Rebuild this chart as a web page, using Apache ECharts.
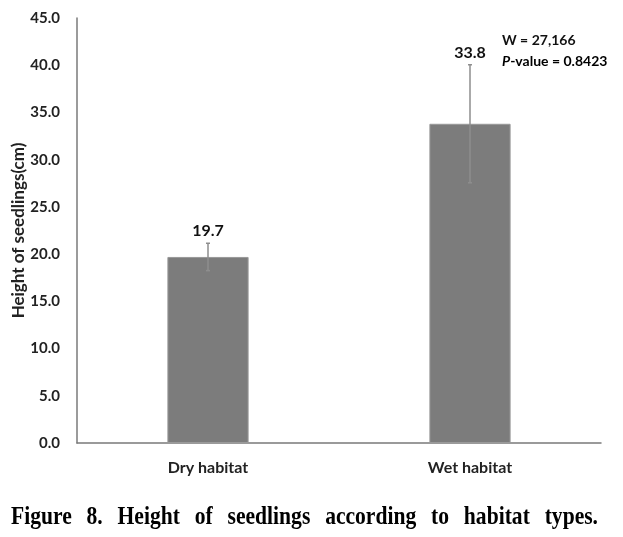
<!DOCTYPE html>
<html><head><meta charset="utf-8">
<script src="https://cdn.jsdelivr.net/npm/echarts@6/dist/echarts.min.js"></script>
<style>html,body{margin:0;padding:0;background:#fff}#c{width:623px;height:537px}</style>
</head><body><div id="c"></div>
<script>
var categories = ['Dry habitat', 'Wet habitat'];
var means = [19.7, 33.8];
var errors = [1.45, 6.25];
var yTicks = [0, 5, 10, 15, 20, 25, 30, 35, 40, 45];
var statLines = ['W = 27,166', 'P-value = 0.8423'];
var captionText = 'Figure 8. Height of seedlings according to habitat types.';

var chart = echarts.init(document.getElementById('c'));
var labelFont = 'Lato, "Open Sans", sans-serif';

// justified, horizontally condensed caption
var capLeft = 11, capRight = 598, capTop = 504, capSize = 26, capScale = 0.83;
var capFont = 'bold ' + capSize + 'px "Liberation Serif", "Times New Roman", serif';
var ctx = document.createElement('canvas').getContext('2d');
ctx.font = capFont;
var words = captionText.split(' ');
var widths = words.map(function (w) { return ctx.measureText(w).width * capScale; });
var total = widths.reduce(function (a, b) { return a + b; }, 0);
var gap = (capRight - capLeft - total) / (words.length - 1);
var capGraphics = [];
var cx = capLeft;
words.forEach(function (w, i) {
  capGraphics.push({
    type: 'text', x: cx, y: capTop, scaleX: capScale,
    style: { text: w, font: capFont, fill: '#000', verticalAlign: 'top' }
  });
  cx += widths[i] + gap;
});

chart.setOption({
  animation: false,
  grid: { left: 77, right: 22, top: 18, bottom: 94, containLabel: false, outerBoundsMode: 'none' },
  xAxis: {
    type: 'category', data: categories,
    axisLine: { lineStyle: { color: '#7a7a7a', width: 1.5 } },
    axisTick: { show: false },
    axisLabel: { color: '#222', fontWeight: 'bold', fontSize: 16, fontFamily: labelFont, margin: 17 }
  },
  yAxis: {
    type: 'value', min: 0, max: 45, interval: 5,
    name: 'Height of seedlings(cm)', nameLocation: 'middle', nameGap: 50, nameMoveOverlap: false,
    nameTextStyle: { color: '#222', fontWeight: 'bold', fontSize: 17, fontFamily: labelFont },
    axisLine: { show: true, lineStyle: { color: '#7a7a7a', width: 1.5 } },
    axisTick: { show: false },
    splitLine: { show: false },
    axisLabel: { color: '#222', fontWeight: 'bold', fontSize: 15, fontFamily: labelFont, margin: 17,
      formatter: function (v) { return v.toFixed(1); } }
  },
  series: [
    {
      type: 'bar', data: means, barWidth: '31%',
      itemStyle: { color: '#7c7c7c', borderColor: '#9a9a9a', borderWidth: 1 },
      z: 2
    },
    {
      type: 'custom', z: 3,
      data: means.map(function (m, i) { return [i, m - errors[i], m + errors[i]]; }),
      renderItem: function (params, api) {
        var lo = api.coord([api.value(0), api.value(1)]);
        var hi = api.coord([api.value(0), api.value(2)]);
        var s = { stroke: '#8e8e8e', lineWidth: 1.5 };
        return { type: 'group', children: [
          { type: 'line', shape: { x1: hi[0], y1: hi[1], x2: lo[0], y2: lo[1] }, style: s },
          { type: 'line', shape: { x1: hi[0] - 2, y1: hi[1], x2: hi[0] + 2, y2: hi[1] }, style: s },
          { type: 'line', shape: { x1: lo[0] - 2, y1: lo[1], x2: lo[0] + 2, y2: lo[1] }, style: s }
        ] };
      }
    },
    {
      type: 'custom', z: 4,
      data: means.map(function (m, i) { return [i, m + errors[i], m]; }),
      renderItem: function (params, api) {
        var p = api.coord([api.value(0), api.value(1)]);
        return { type: 'text', x: p[0], y: p[1] - 4,
          style: { text: api.value(2).toFixed(1), align: 'center', verticalAlign: 'bottom',
            font: 'bold 16px Lato, "Open Sans", sans-serif', fill: '#111' } };
      }
    }
  ],
  graphic: [
    { type: 'text', left: 502, top: 33,
      style: { text: statLines[0], font: 'bold 14px Lato, "Open Sans", sans-serif', fill: '#111' } },
    { type: 'text', left: 502, top: 54,
      style: { rich: { i: { fontStyle: 'italic', fontWeight: 'bold', fontSize: 14, fontFamily: labelFont, color: '#111' },
                       n: { fontWeight: 'bold', fontSize: 14, fontFamily: labelFont, color: '#111' } },
               text: '{i|' + statLines[1].charAt(0) + '}{n|' + statLines[1].slice(1) + '}' } }
  ].concat(capGraphics)
});
</script></body></html>
